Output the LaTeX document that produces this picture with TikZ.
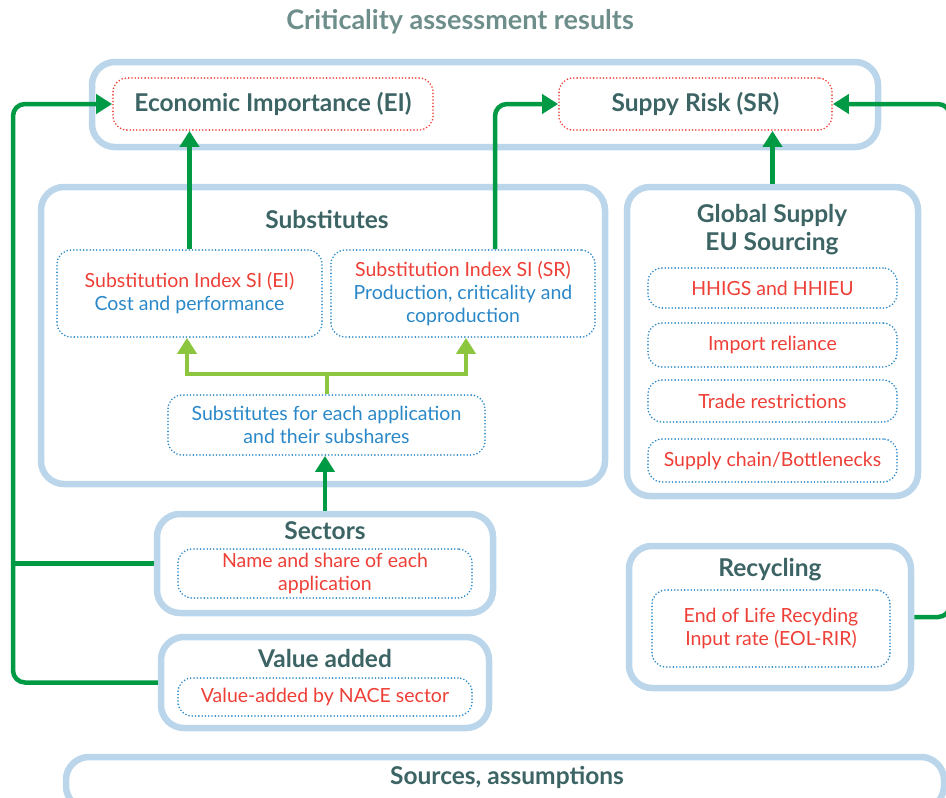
\documentclass[tikz,border=0pt]{standalone}
\usepackage{fontspec}
\setmainfont{Lato}
\usetikzlibrary{arrows.meta}

\definecolor{frameblue}{HTML}{BBD6EB}
\definecolor{dgreen}{HTML}{009A44}
\definecolor{lgreen}{HTML}{8CC63F}
\definecolor{txtred}{HTML}{EE3F37}
\definecolor{txtblue}{HTML}{2B88C8}
\definecolor{teal}{HTML}{3D6464}
\definecolor{titlegray}{HTML}{6E8E8B}

\tikzset{
  frame/.style={draw=frameblue, line width=6.5pt, rounded corners=23pt, inner sep=0pt},
  dotbox/.style={line width=1.8pt, dash pattern=on 0pt off 3.3pt, line cap=round,
                 rounded corners=14pt, inner sep=0pt, align=center},
  redbox/.style={dotbox, draw=txtred},
  bluebox/.style={dotbox, draw=txtblue},
  head/.style={text=teal, font=\fontsize{24.5}{28}\selectfont\bfseries, align=center},
  body/.style={font=\fontsize{19.5}{23}\selectfont},
  conn/.style={draw=dgreen, line width=4.5pt, rounded corners=12pt},
  lconn/.style={draw=lgreen, line width=4.5pt},
  tip/.style={-{Triangle[length=16pt,width=19pt]}}
}

\begin{document}
\begin{tikzpicture}[x=1pt,y=-1pt]
\useasboundingbox (0,0) rectangle (946,798);

% title
\node[text=titlegray, font=\fontsize{27}{30}\selectfont\bfseries] (title) at (460,22) {Criticality assessment results};

% outer frames
\node[frame, minimum width=786, minimum height=85] (res) at (485,104.5) {};
\node[frame, minimum width=564, minimum height=297] (subs) at (323,335.5) {};
\node[frame, minimum width=291, minimum height=309] (glob) at (772.5,341.5) {};
\node[frame, minimum width=336, minimum height=99] (sec) at (325,563.5) {};
\node[frame, minimum width=328, minimum height=91] (va) at (325,682.5) {};
\node[frame, minimum width=282, minimum height=142] (rec) at (770,617) {};
\node[frame, minimum width=878, minimum height=52] (src) at (505,783) {};

% frame headings
\node[head] (subsT) at (327,219) {Substitutes};
\node[head] (globT) at (772,230) {Global Supply\\EU Sourcing};
\node[head] (secT) at (325,531) {Sectors};
\node[head] (vaT) at (325,658) {Value added};
\node[head] (recT) at (770,570) {Recycling};
\node[head] (srcT) at (507,777) {Sources, assumptions};

% results
\node[redbox, minimum width=320, minimum height=52, head] (EI) at (273,104) {Economic Importance (EI)};
\node[redbox, minimum width=273, minimum height=52, head] (SR) at (695.5,104) {Suppy Risk (SR)};

% substitutes
\node[bluebox, body, minimum width=265, minimum height=87] (siei) at (189.5,293.5)
  {\textcolor{txtred}{Substitution Index SI (EI)}\\\textcolor{txtblue}{Cost and performance}};
\node[bluebox, body, minimum width=264, minimum height=87] (sisr) at (463,293.5)
  {\textcolor{txtred}{Substitution Index SI (SR)}\\\textcolor{txtblue}{Production, criticality and}\\\textcolor{txtblue}{coproduction}};
\node[bluebox, body, text=txtblue, minimum width=317, minimum height=60] (app) at (326.5,425)
  {Substitutes for each application\\and their subshares};

% global supply items
\node[bluebox, body, text=txtred, minimum width=249, minimum height=40] (hhi) at (772.5,288) {HHIGS and HHIEU};
\node[bluebox, body, text=txtred, minimum width=249, minimum height=44] (imp) at (772.5,345) {Import reliance};
\node[bluebox, body, text=txtred, minimum width=249, minimum height=42] (trade) at (772.5,401) {Trade restrictions};
\node[bluebox, body, text=txtred, minimum width=249, minimum height=43] (chain) at (772.5,460.5) {Supply chain/Bottlenecks};

% sectors, value added, recycling
\node[bluebox, body, text=txtred, minimum width=294, minimum height=49] (share) at (325,573.5)
  {Name and share of each\\application};
\node[bluebox, body, text=txtred, minimum width=294, minimum height=38] (nace) at (325,697)
  {Value-added by NACE sector};
\node[bluebox, body, text=txtred, minimum width=238, minimum height=77] (eol) at (771,628.5)
  {End of Life Recyding\\Input rate (EOL-RIR)};

% routing points
\coordinate (lft) at (13,0);
\coordinate (rgt) at (950,0);
\coordinate (fork) at (327,374);

% connectors
\draw[conn,tip] (siei.north) -- (siei.north |- EI.south);
\draw[conn,tip] ([xshift=32pt]sisr.north) |- (SR.west);
\draw[conn,tip] (glob.north) -- (glob.north |- SR.south);
\draw[conn,tip] (rec.east) -- (rgt |- rec.east) -- (rgt |- SR.east) -- (SR.east);
\draw[conn,tip] (va.west) -- (lft |- va.west) -- (lft |- EI.west) -- (EI.west);
\draw[conn] (sec.west) -- (lft |- sec.west);
\draw[conn,tip] (sec.north) -- (sec.north |- app.south);

\draw[lconn] (app.north -| fork) -- (fork);
\draw[lconn,tip] (fork) -| ([xshift=-2.5pt]siei.south);
\draw[lconn,tip] (fork) -| ([xshift=3pt]sisr.south);
\end{tikzpicture}
\end{document}
